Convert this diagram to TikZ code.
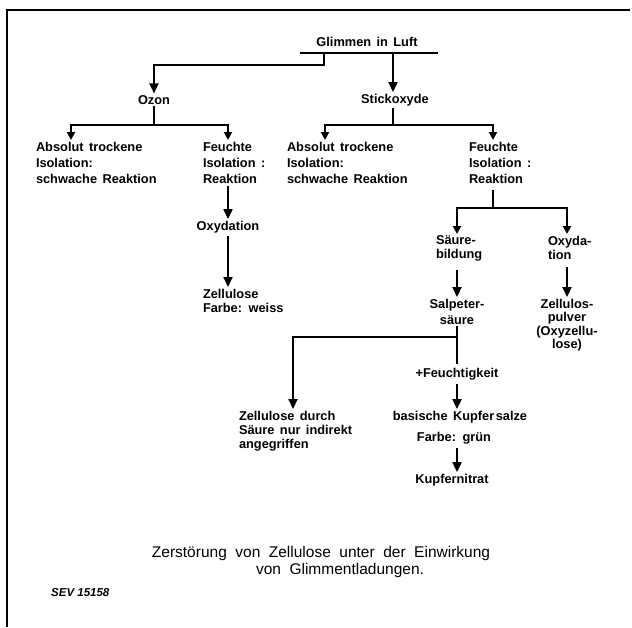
\documentclass[tikz,border=0pt]{standalone}
\usepackage{fontspec}
\setmainfont{Liberation Sans}
\usetikzlibrary{arrows.meta}
\newcommand\dgfont{\bfseries\fontsize{12.8}{16}\selectfont\spaceskip=.42em\relax}
\newcommand\dgfontB{\bfseries\fontsize{12.8}{14}\selectfont\spaceskip=.42em\relax}
\newcommand\dgfontC{\bfseries\fontsize{12.8}{13.5}\selectfont\spaceskip=.42em\relax}
\newcommand\capfont{\fontsize{15.5}{17}\selectfont\spaceskip=.55em\relax}
\begin{document}
\begin{tikzpicture}[x=1pt,y=-1pt,
  lbl/.style={font=\dgfont, inner sep=0pt, outer sep=0pt},
  blk/.style={lbl, align=left, anchor=north west},
  cblk/.style={lbl, align=center, anchor=north},
  ln/.style={line width=2.2pt, line cap=rect},
  arr/.style={line width=2.2pt, -{Triangle[length=10pt,width=9pt]}, shorten >=2pt},
  arrtwo/.style={line width=2.2pt, line join=miter, {Triangle[length=8pt,width=8pt]}-{Triangle[length=8pt,width=8pt]}, shorten >=2pt, shorten <=2pt},
  capstyle/.style={font=\capfont, inner sep=0pt},
  framestyle/.style={line width=2.2pt}]
\useasboundingbox (0,0) rectangle (632,627);
\draw[framestyle] (630,10) -- (7,10) -- (7,627);

% nodes
\node[lbl] (glimmen) at (367,42) {Glimmen in Luft};
\node[lbl] (ozon) at (154,100) {Ozon};
\node[lbl] (stick) at (395,100) {Stickoxyde};
\node[blk] (absL) at (36,142) {Absolut trockene\\Isolation:\\schwache Reaktion};
\node[blk] (feuL) at (203,142) {Feuchte\\Isolation :\\Reaktion};
\node[lbl] (oxyL) at (228,227) {Oxydation};
\node[blk, font=\dgfontB] (zelL) at (203,289) {Zellulose\\Farbe: weiss};
\node[blk] (absM) at (287,142) {Absolut trockene\\Isolation:\\schwache Reaktion};
\node[blk] (feuR) at (469,142) {Feuchte\\Isolation :\\Reaktion};
\node[blk, font=\dgfontB] (saeure) at (436,236) {Säure-\\bildung};
\node[blk, font=\dgfontB] (oxyR) at (548,236) {Oxyda-\\tion};
\node[cblk] (salp) at (457,299) {Salpeter-\\säure};
\node[cblk, font=\dgfontC] (zpulv) at (567,299) {Zellulos-\\pulver\\(Oxyzellu-\\lose)};
\node[lbl] (feucht) at (457,374) {+Feuchtigkeit};
\node[blk, font=\dgfontB] (zsaeure) at (239,411) {Zellulose durch\\Säure nur indirekt\\angegriffen};
\node[lbl] (basisch) at (460,417) {basische Kupfer\kern1.5pt salze};
\node[lbl] (farbe) at (454,438) {Farbe: grün};
\node[lbl] (kupfer) at (452,480) {Kupfernitrat};
\node[capstyle] (capA) at (321,553) {Zerstörung von Zellulose unter der Einwirkung};
\node[capstyle] (capB) at (340,570) {von Glimmentladungen.};
\node[font=\bfseries\itshape\fontsize{11.5}{13}\selectfont, inner sep=0pt, anchor=west] (sev) at (51,593) {SEV 15158};

% connectors
\coordinate (gL) at (301,53);
\coordinate (gR) at (437,53);
\coordinate (gO) at (324,53);
\coordinate (gOa) at (324,65);
\coordinate (gOb) at (154,65);
\coordinate (gS) at (393,53);
\draw[ln] (gL) -- (gR);
\draw[arr, line join=miter] (gO) -- (gOa) -- (gOb) -- (ozon.north);
\draw[arr] (gS) -- (gS |- stick.north);

\coordinate (oz) at (154,125);
\coordinate (ozL) at (71,125);
\coordinate (ozR) at (228,125);
\draw[ln, shorten <=3pt] (ozon.south) -- (oz);
\draw[arrtwo] (ozL |- absL.north) -- (ozL) -- (ozR) -- (ozR |- feuL.north);

\coordinate (st) at (393,125);
\coordinate (stL) at (325,125);
\coordinate (stR) at (493,125);
\draw[ln, shorten <=3pt] (st |- stick.south) -- (st);
\draw[arrtwo] (stL |- absM.north) -- (stL) -- (stR) -- (stR |- feuR.north);

\draw[arr, shorten <=3pt] (oxyL |- feuL.south) -- (oxyL.north);
\draw[arr, shorten <=3pt] (oxyL.south) -- (oxyL |- zelL.north);

\coordinate (fr) at (493,208);
\coordinate (frL) at (457,208);
\coordinate (frR) at (567,208);
\draw[ln, shorten <=8pt] (fr |- feuR.south) -- (fr);
\draw[arrtwo] (frL |- saeure.north) -- (frL) -- (frR) -- (frR |- oxyR.north);

\draw[arr, shorten <=8pt] (frL |- saeure.south) -- (frL |- salp.north);
\draw[arr, shorten <=8pt] (zpulv.north |- oxyR.south) -- (zpulv.north);

\coordinate (sp) at (457,337);
\coordinate (spL) at (293,337);
\draw[ln, shorten <=3pt, shorten >=5pt] (salp.south) -- (feucht.north);
\draw[arr, line join=miter] (sp) -- (spL) -- (spL |- zsaeure.north);
\draw[arr, shorten <=4pt] (feucht.south) -- (feucht.south |- basisch.north);
\draw[arr, shorten <=4pt] (feucht.south |- farbe.south) -- (feucht.south |- kupfer.north);
\end{tikzpicture}
\end{document}
